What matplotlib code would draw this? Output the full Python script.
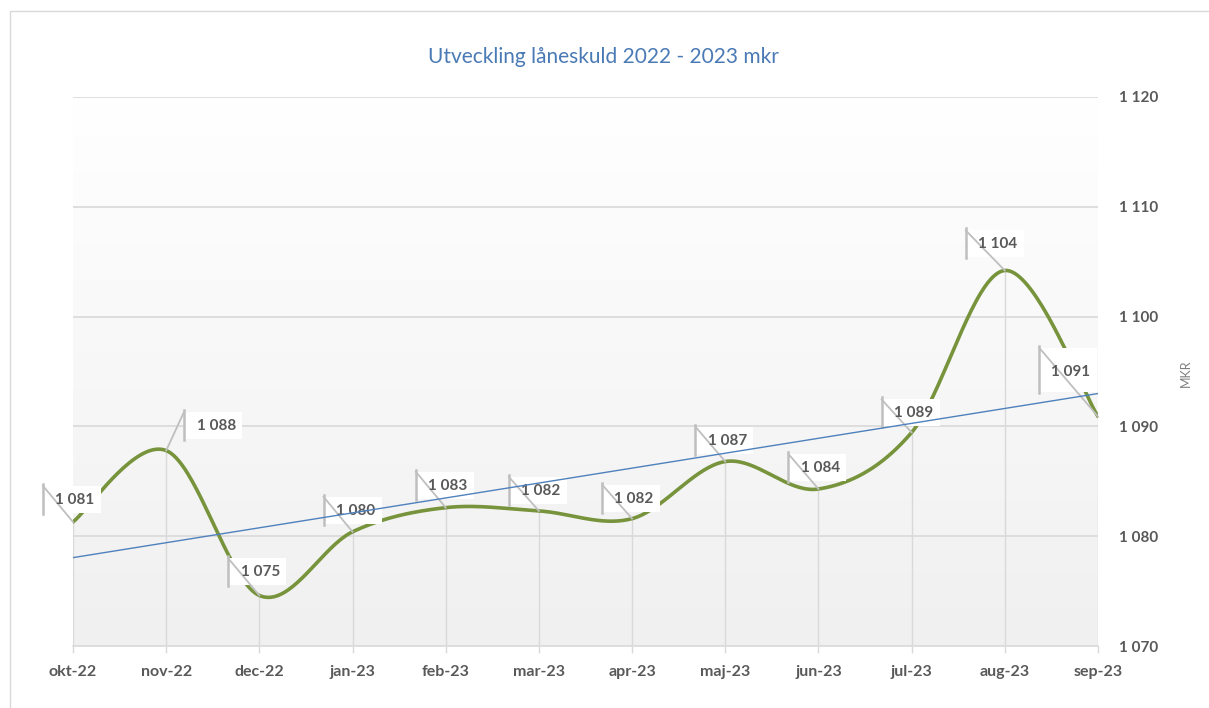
import numpy as np
import matplotlib
matplotlib.use("Agg")
import matplotlib.pyplot as plt
from matplotlib.colors import LinearSegmentedColormap
from matplotlib.patches import Rectangle
from matplotlib.transforms import IdentityTransform

plt.rcParams["font.family"] = ["Lato", "DejaVu Sans"]

# data
months = ["okt-22", "nov-22", "dec-22", "jan-23", "feb-23", "mar-23",
          "apr-23", "maj-23", "jun-23", "jul-23", "aug-23", "sep-23"]
skuld = [1081.3, 1087.8, 1074.6, 1080.4, 1082.6, 1082.3,
         1081.6, 1086.8, 1084.3, 1089.45, 1104.2, 1090.9]
y_ticks = [1070, 1080, 1090, 1100, 1110, 1120]

# label placement (pixels, text centre relative to point; y up)
lab_off = [(2, 22), (50, 25), (1, 23), (3, 21), (2, 22), (2, 20),
           (2, 20), (2, 21), (2, 21), (2, 19), (-7, 26), (-27, 45)]
lab_box = [(14, 13)] * 10 + [(14, 13), (24, 20)]   # (above, below) centre

GREEN = "#77933c"
BLUE = "#4f81bd"
GRID = "#d9d9d9"
TXT = "#595959"
LEAD = "#bfbfbf"


def fmt(v):
    return f"{v:,.0f}".replace(",", " ")


def excel_smooth(x, y, n=40):
    P = np.column_stack([x, y]).astype(float)
    out = []
    for i in range(len(P) - 1):
        p0 = P[i - 1] if i > 0 else P[i]
        p1, p2 = P[i], P[i + 1]
        p3 = P[i + 2] if i + 2 < len(P) else P[i + 1]
        c1 = p1 + (p2 - p0) / 6
        c2 = p2 - (p3 - p1) / 6
        t = np.linspace(0, 1, n)[:, None]
        seg = (1 - t) ** 3 * p1 + 3 * (1 - t) ** 2 * t * c1 + 3 * (1 - t) * t ** 2 * c2 + t ** 3 * p2
        out.append(seg if i == 0 else seg[1:])
    return np.vstack(out)


W, H = 1209, 708
fig = plt.figure(figsize=(W / 100, H / 100), dpi=100)
fig.patches.append(Rectangle((10, -5), 1400, H - 11 + 5, transform=IdentityTransform(),
                             fill=False, ec="#d9d9d9", lw=1))
ax = fig.add_axes([73 / W, 1 - 646 / H, (1098 - 73) / W, (646 - 97) / H])

x = np.arange(len(months))
ax.set_xlim(0, len(months) - 1)
ax.set_ylim(y_ticks[0], y_ticks[-1])

# gradient background
cmap = LinearSegmentedColormap.from_list("bg", ["#f0f0f0", "#ffffff"])
ax.imshow(np.linspace(0, 1, 256).reshape(-1, 1), extent=[0, len(months) - 1, y_ticks[0], y_ticks[-1]],
          aspect="auto", cmap=cmap, origin="lower", zorder=0)

for yt in y_ticks[1:]:
    ax.axhline(yt, color=GRID, lw=1.2, zorder=1)
ax.vlines(x, y_ticks[0], skuld, color=GRID, lw=1, zorder=1)

curve = excel_smooth(x, skuld)
ax.plot(curve[:, 0], curve[:, 1], color=GREEN, lw=2.6, zorder=2, solid_capstyle="round")

# linear trend
k, m = np.polyfit(x, skuld, 1)
ax.plot([x[0], x[-1]], [k * x[0] + m, k * x[-1] + m], color=BLUE, lw=1, zorder=7)

for s in ["top", "left", "right"]:
    ax.spines[s].set_visible(False)
ax.spines["bottom"].set_color(GRID)
ax.spines["bottom"].set_linewidth(1.2)

ax.set_xticks(x)
ax.set_xticklabels(months)
ax.yaxis.tick_right()
ax.set_yticks(y_ticks)
ax.set_yticklabels([fmt(v) for v in y_ticks])
ax.tick_params(axis="x", length=5, color=GRID, width=1, pad=9, labelsize=11.5, labelcolor=TXT)
ax.tick_params(axis="y", length=0, pad=15, labelsize=11, labelcolor=TXT)
for lbl in ax.get_xticklabels() + ax.get_yticklabels():
    lbl.set_fontweight("bold")

# data labels with leader lines
idt = IdentityTransform()
for i, v in enumerate(skuld):
    px, py = ax.transData.transform((x[i], v))
    cx, cy = px + lab_off[i][0], py + lab_off[i][1]
    left = cx - 32
    top, bot = cy + lab_box[i][0], cy - lab_box[i][1]
    ax.add_patch(Rectangle((left, bot), 58, top - bot, transform=idt, fc="white",
                           ec="none", zorder=3, clip_on=False))
    ax.plot([left, left], [bot - 1, top + 2], transform=idt, color=LEAD, lw=1.8,
            zorder=4, clip_on=False)
    ax.plot([left, px], [top, py], transform=idt, color=LEAD, lw=1.3,
            zorder=4, clip_on=False)
    ax.text(cx, cy, fmt(v), transform=idt, ha="center", va="center", fontsize=11,
            fontweight="bold", color=TXT, zorder=5)

fig.text(603 / W, 1 - 57 / H, "Utveckling låneskuld 2022 - 2023 mkr", ha="center",
         va="center", fontsize=15, color="#4a7ab5")
fig.text(1186 / W, 1 - 373 / H, "MKR", rotation=90, ha="center", va="center",
         fontsize=9, color="#7f7f7f")

fig.savefig("out.png", dpi=100)
